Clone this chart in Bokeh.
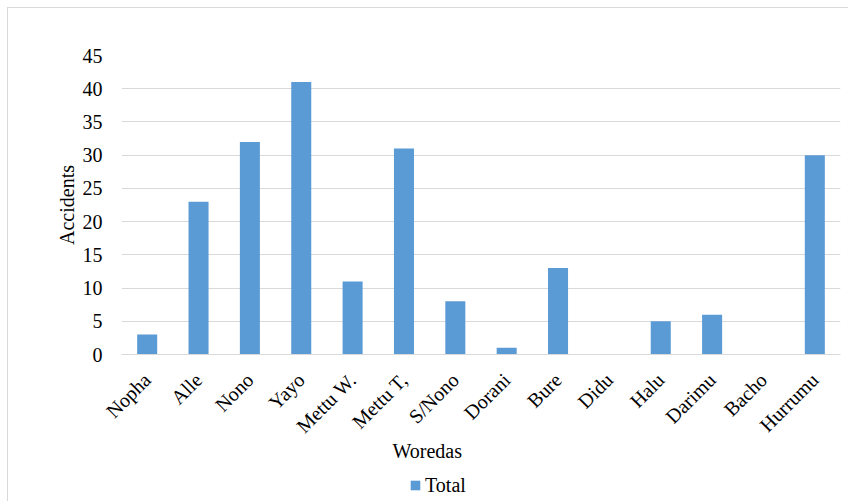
import math
from bokeh.plotting import figure
from bokeh.layouts import column
from bokeh.models import FactorRange, Range1d, Legend, LegendItem, Title
from bokeh.embed import file_html
from bokeh.resources import INLINE

woredas = ["Nopha", "Alle", "Nono", "Yayo", "Mettu W.", "Mettu T,", "S/Nono", "Dorani",
           "Bure", "Didu", "Halu", "Darimu", "Bacho", "Hurrumu"]
accidents = [3, 23, 32, 41, 11, 31, 8, 1, 13, 0, 5, 6, 0, 30]
y_ticks = [0, 5, 10, 15, 20, 25, 30, 35, 40, 45]
series_name = "Total"

FONT = "Liberation Serif"
BAR = "#5B9BD5"
GRID = "#D9D9D9"

p = figure(width=841, height=454, x_range=FactorRange(*woredas), y_range=Range1d(0, 45),
           output_backend="svg", toolbar_location=None,
           min_border_left=113, min_border_top=47, min_border_right=9, min_border_bottom=108)
p.outline_line_color = None
p.background_fill_color = "white"
p.border_fill_color = "white"

r = p.vbar(x=woredas, top=accidents, width=0.39, fill_color=BAR, line_color=None)

p.xgrid.grid_line_color = None
p.ygrid.grid_line_color = GRID
p.ygrid.grid_line_width = 1

p.yaxis.ticker = y_ticks
p.yaxis.axis_line_color = None
p.yaxis.major_tick_line_color = None
p.yaxis.minor_tick_line_color = None
p.yaxis.major_label_text_font = FONT
p.yaxis.major_label_text_font_size = "20px"
p.yaxis.major_label_text_color = "#000000"
p.yaxis.major_label_standoff = 13
p.yaxis.axis_label = "Accidents"
p.yaxis.axis_label_text_font = FONT
p.yaxis.axis_label_text_font_size = "20px"
p.yaxis.axis_label_text_font_style = "normal"
p.yaxis.axis_label_text_color = "#000000"
p.yaxis.axis_label_standoff = 2

p.xaxis.axis_line_color = GRID
p.xaxis.major_tick_line_color = None
p.xaxis.minor_tick_line_color = None
p.xaxis.major_label_orientation = math.pi / 4
p.xaxis.major_label_text_font = FONT
p.xaxis.major_label_text_font_size = "20px"
p.xaxis.major_label_text_color = "#000000"
p.xaxis.major_label_standoff = 16

t = Title(text="Woredas", align="left", vertical_align="top", offset=271, text_font=FONT,
          text_font_size="20px", text_font_style="normal", text_color="#000000", standoff=-16)
p.add_layout(t, "below")

# legend strip
q = figure(width=841, height=40, x_range=Range1d(0, 1), y_range=Range1d(0, 1),
           x_axis_type=None, y_axis_type=None,
           output_backend="svg", toolbar_location=None,
           min_border=0, min_border_left=0, min_border_right=0, min_border_top=0, min_border_bottom=0)
q.outline_line_color = None
q.grid.visible = False
q.border_fill_color = "white"
q.background_fill_color = "white"
r2 = q.vbar(x=[-10], top=[0], width=0.39, fill_color=BAR, line_color=None)
legend = Legend(items=[LegendItem(label=series_name, renderers=[r2])], location=(288, 5),
                orientation="horizontal", padding=0, margin=0, border_line_color=None,
                background_fill_alpha=0, glyph_width=12, glyph_height=12, label_standoff=4,
                label_height=24, label_text_font=FONT, label_text_font_size="20px",
                label_text_color="#000000")
q.add_layout(legend)

layout = column(p, q, spacing=0)
layout.styles = {"border": "1px solid #D9D9D9", "margin-left": "7px", "margin-top": "7px",
                 "background-color": "white"}

open("out.html", "w").write(file_html(layout, INLINE))
